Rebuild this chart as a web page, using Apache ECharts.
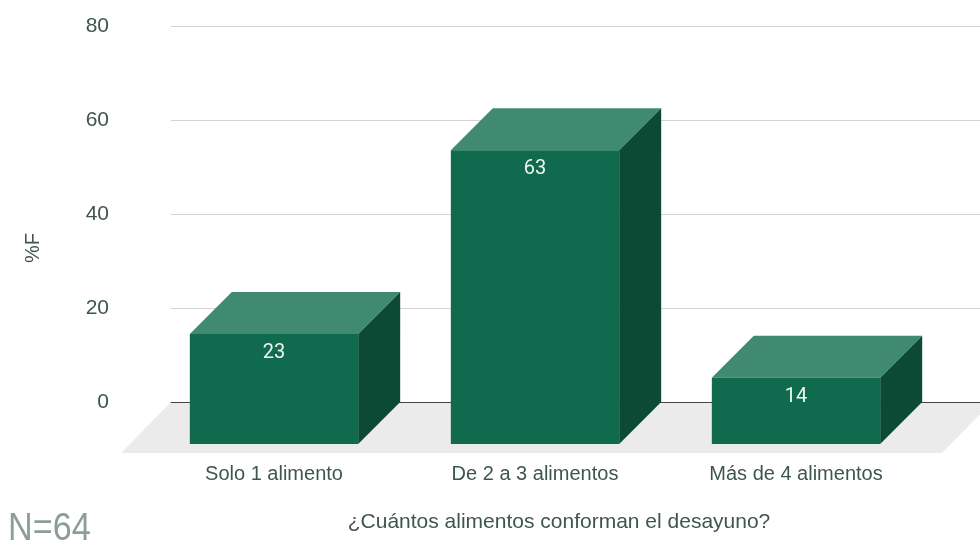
<!DOCTYPE html>
<html>
<head>
<meta charset="utf-8">
<script src="https://cdn.jsdelivr.net/npm/echarts@6/dist/echarts.min.js"></script>
<style>
  html, body { margin: 0; padding: 0; background: #fff; }
  #chart { width: 980px; height: 550px; }
</style>
</head>
<body>
<div id="chart"></div>
<script>
// datos del grafico
const categories = ["Solo 1 alimento", "De 2 a 3 alimentos", "Más de 4 alimentos"];
const values = [23.4, 62.5, 14.1];
const yTicks = [0, 20, 40, 60, 80];

const chart = echarts.init(document.getElementById("chart"));
const textColor = "#3f5650";
const depth = 42;

function renderFloor(params, api) {
  const cs = params.coordSys;
  const by = cs.y + cs.height;
  const right = cs.x + cs.width + 12;
  return {
    type: "polygon",
    shape: {
      points: [
        [cs.x, by],
        [right, by],
        [right - 50, by + 51],
        [cs.x - 50, by + 51],
      ],
    },
    style: { fill: "#ebebeb" },
  };
}

function renderBar(params, api) {
  const idx = api.value(0);
  const v = api.value(1);
  const top = api.coord([idx, v]);
  const base = api.coord([idx, 0]);
  const w = api.size([1, 0])[0] * 0.645;
  const x0 = top[0] - w / 2;
  const x1 = top[0] + w / 2;
  const fy = top[1] + depth;
  const by = base[1] + depth;
  return {
    type: "group",
    children: [
      {
        type: "polygon",
        shape: { points: [[x0, fy], [x0 + depth, fy - depth], [x1 + depth, fy - depth], [x1, fy]] },
        style: { fill: "#3f8a71" },
      },
      {
        type: "polygon",
        shape: { points: [[x1, fy], [x1 + depth, fy - depth], [x1 + depth, by - depth], [x1, by]] },
        style: { fill: "#0c4a36" },
      },
      {
        type: "rect",
        shape: { x: x0, y: fy, width: w, height: by - fy },
        style: { fill: "#0f6a4e" },
      },
      {
        type: "text",
        style: {
          x: top[0],
          y: fy + 19,
          text: String(Math.round(v)),
          align: "center",
          verticalAlign: "middle",
          fill: "#eef5f1",
          font: "20px Roboto, sans-serif",
        },
      },
    ],
  };
}

const option = {
  animation: false,
  textStyle: { fontFamily: "Arial, 'Liberation Sans', sans-serif" },
  graphic: [
    {
      type: "text",
      left: 8,
      top: 511,
      scaleX: 0.9,
      style: {
        text: "N=64",
        font: "38px 'Liberation Sans', Arial, sans-serif",
        fill: "#8d9e98",
      },
    },
  ],
  grid: [
    { left: 171, right: 0, top: 26, bottom: 148 },
    { left: 143.5, right: 53.5, top: 26, bottom: 148 },
  ],
  xAxis: [
    {
      gridIndex: 0,
      type: "category",
      data: [""],
      z: 1,
      axisLine: { show: true, lineStyle: { color: "#444", width: 1 } },
      axisTick: { show: false },
      axisLabel: { show: false },
    },
    {
      gridIndex: 1,
      type: "category",
      data: categories,
      z: 1,
      axisLine: { show: false },
      axisTick: { show: false },
      axisLabel: { margin: 62, fontSize: 20, color: textColor },
      name: "¿Cuántos alimentos conforman el desayuno?",
      nameLocation: "middle",
      nameGap: 110,
      nameTextStyle: { fontSize: 21, color: textColor, padding: [0, 0, 0, 48] },
    },
  ],
  yAxis: [
    {
      gridIndex: 0,
      type: "value",
      min: yTicks[0],
      max: yTicks[yTicks.length - 1],
      interval: yTicks[1] - yTicks[0],
      z: 1,
      axisLine: { show: false },
      axisTick: { show: false },
      axisLabel: { margin: 62, fontSize: 21, color: textColor },
      splitLine: { lineStyle: { color: "#d3d3d3", width: 1 } },
      name: "%F",
      nameLocation: "middle",
      nameGap: 128,
      nameTextStyle: { fontSize: 20, color: textColor, padding: [0, 68, 0, 0] },
    },
    {
      gridIndex: 1,
      type: "value",
      min: yTicks[0],
      max: yTicks[yTicks.length - 1],
      show: false,
    },
  ],
  series: [
    {
      type: "custom",
      xAxisIndex: 0,
      yAxisIndex: 0,
      z: 0,
      silent: true,
      renderItem: renderFloor,
      data: [[0, 0]],
    },
    {
      type: "custom",
      xAxisIndex: 1,
      yAxisIndex: 1,
      z: 3,
      renderItem: renderBar,
      encode: { x: 0, y: 1 },
      data: values.map((v, i) => [i, v]),
    },
  ],
};

chart.setOption(option);
</script>
</body>
</html>
